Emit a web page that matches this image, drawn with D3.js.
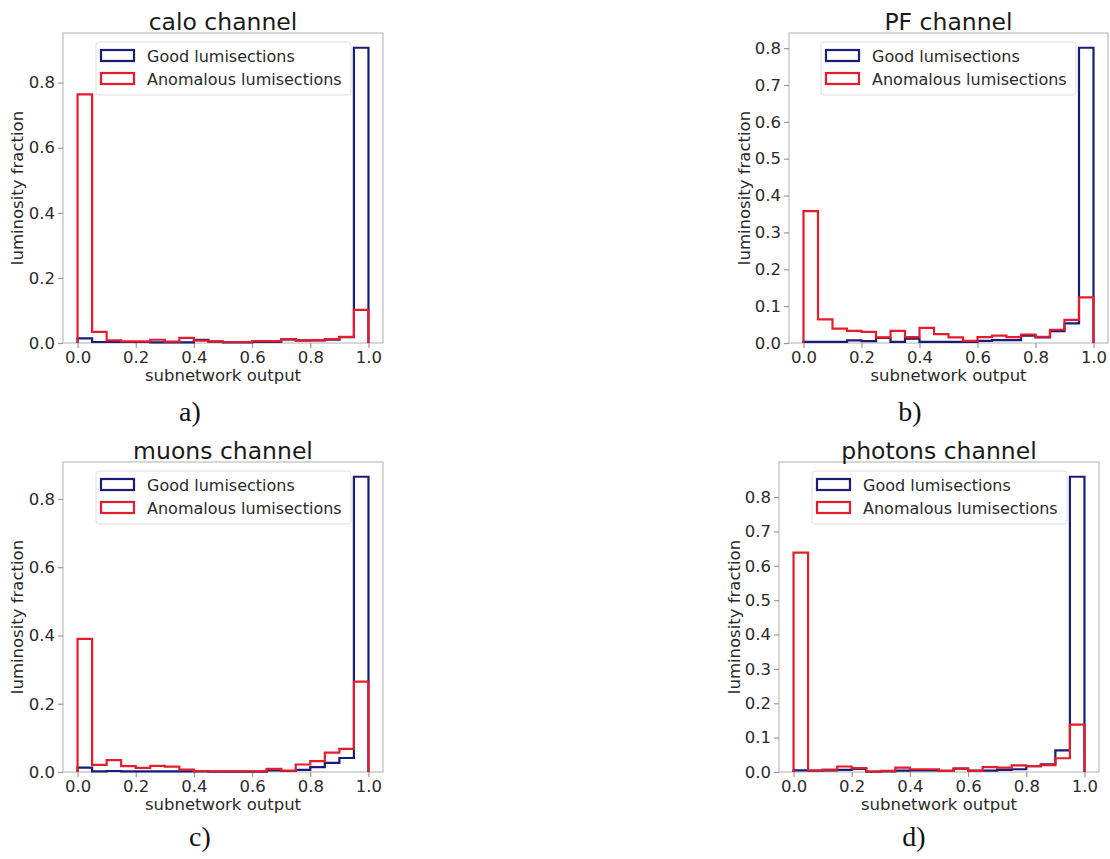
<!DOCTYPE html>
<html>
<head>
<meta charset="utf-8">
<script src="https://cdn.jsdelivr.net/npm/d3@7"></script>
<style>
  body { margin: 0; background: #fff; }
  text { font-family: "DejaVu Sans", sans-serif; }
</style>
</head>
<body>
<div class="container"></div>
<script>
// bin edges of the histograms (20 bins)
const binEdges = [0, 0.05, 0.1, 0.15, 0.2, 0.25, 0.3, 0.35, 0.4, 0.45, 0.5,
  0.55, 0.6, 0.65, 0.7, 0.75, 0.8, 0.85, 0.9, 0.95, 1.0];

const caloGood = [0.014, 0.003, 0.003, 0.003, 0.003, 0.002, 0.002, 0.002, 0.01, 0.004,
  0.002, 0.002, 0.003, 0.003, 0.011, 0.008, 0.008, 0.01, 0.018, 0.907];
const caloBad = [0.764, 0.034, 0.008, 0.005, 0.005, 0.01, 0.004, 0.016, 0.007, 0.005,
  0.003, 0.003, 0.006, 0.006, 0.011, 0.007, 0.009, 0.012, 0.019, 0.102];

const pfGood = [0.003, 0.003, 0.003, 0.007, 0.005, 0.014, 0.003, 0.012, 0.003, 0.003,
  0.003, 0.003, 0.006, 0.008, 0.008, 0.02, 0.015, 0.032, 0.053, 0.801];
const pfBad = [0.358, 0.064, 0.039, 0.033, 0.03, 0.015, 0.033, 0.016, 0.041, 0.024,
  0.015, 0.006, 0.016, 0.02, 0.016, 0.023, 0.017, 0.036, 0.063, 0.124];

const muonsGood = [0.013, 0.002, 0.003, 0.002, 0.002, 0.002, 0.002, 0.002, 0.002, 0.001,
  0.001, 0.001, 0.001, 0.005, 0.003, 0.006, 0.014, 0.027, 0.041, 0.865];
const muonsBad = [0.39, 0.021, 0.035, 0.017, 0.012, 0.018, 0.016, 0.007, 0.003, 0.002,
  0.002, 0.002, 0.002, 0.009, 0.004, 0.022, 0.032, 0.057, 0.068, 0.265];

const photonsGood = [0.005, 0.004, 0.005, 0.006, 0.009, 0.001, 0.002, 0.004, 0.005, 0.005,
  0.003, 0.01, 0.004, 0.004, 0.006, 0.008, 0.017, 0.022, 0.063, 0.859];
const photonsBad = [0.638, 0.004, 0.007, 0.016, 0.011, 0.001, 0.003, 0.013, 0.008, 0.008,
  0.003, 0.01, 0.003, 0.014, 0.013, 0.019, 0.017, 0.02, 0.04, 0.138];

const titles = ['calo channel', 'PF channel', 'muons channel', 'photons channel'];
const subLabels = ['a)', 'b)', 'c)', 'd)'];
const seriesNames = ['Good lumisections', 'Anomalous lumisections'];
const xTicks = [0, 0.2, 0.4, 0.6, 0.8, 1.0];
const yTicksCoarse = [0, 0.2, 0.4, 0.6, 0.8];
const yTicksFine = [0, 0.1, 0.2, 0.3, 0.4, 0.5, 0.6, 0.7, 0.8];

const goodColor = '#1b1b78';
const badColor = '#e61c2c';

const width = 1110;
const height = 859;

const panels = [
  { good: caloGood, bad: caloBad, yTicks: yTicksCoarse, left: 63, right: 383, top: 33, bottom: 343, yLabelX: 23, subX: 190, subY: 421 },
  { good: pfGood, bad: pfBad, yTicks: yTicksFine, left: 789, right: 1108, top: 33, bottom: 343, yLabelX: 750, subX: 910, subY: 421 },
  { good: muonsGood, bad: muonsBad, yTicks: yTicksCoarse, left: 63, right: 383, top: 462, bottom: 772, yLabelX: 23, subX: 200, subY: 846 },
  { good: photonsGood, bad: photonsBad, yTicks: yTicksFine, left: 779, right: 1099, top: 462, bottom: 772, yLabelX: 740, subX: 914, subY: 846 }
];

const svg = d3.select('.container').append('svg').attr('width', width).attr('height', height);

panels.forEach((p, i) => {
  const g = svg.append('g').attr('class', 'panel');

  const yMax = d3.max(p.good.concat(p.bad)) * 1.05;
  const xScale = d3.scaleLinear().domain([-0.05, 1.05]).range([p.left, p.right]);
  const yScale = d3.scaleLinear().domain([0, yMax]).range([p.bottom, p.top]);

  //frame
  g.append('rect')
    .attr('x', p.left).attr('y', p.top)
    .attr('width', p.right - p.left).attr('height', p.bottom - p.top)
    .attr('fill', 'none').attr('stroke', '#bdbdbd').attr('stroke-width', 1.2);

  //axes
  const bottomAxis = d3.axisBottom(xScale).tickValues(xTicks).tickFormat(d3.format('.1f'))
    .tickSize(5).tickPadding(3);
  const bottomGroup = g.append('g').attr('transform', `translate(0,${p.bottom})`).call(bottomAxis);
  const leftAxis = d3.axisLeft(yScale).tickValues(p.yTicks).tickFormat(d3.format('.1f'))
    .tickSize(5).tickPadding(3);
  const leftGroup = g.append('g').attr('transform', `translate(${p.left},0)`).call(leftAxis);
  [bottomGroup, leftGroup].forEach(ax => {
    ax.select('.domain').remove();
    ax.selectAll('.tick line').attr('stroke', '#9a9a9a').attr('stroke-width', 1.2);
    ax.selectAll('.tick text').attr('fill', '#2a2a2a').style('font-size', '16.5px')
      .style('font-family', '"DejaVu Sans", sans-serif');
  });

  //histogram outlines (step style)
  const line = d3.line().x(d => xScale(d[0])).y(d => yScale(d[1]));
  const stepPoints = values => {
    const pts = [[binEdges[0], 0]];
    values.forEach((v, k) => {
      pts.push([binEdges[k], v]);
      pts.push([binEdges[k + 1], v]);
    });
    pts.push([binEdges[binEdges.length - 1], 0]);
    return pts;
  };
  g.append('path').attr('d', line(stepPoints(p.good)))
    .attr('fill', 'none').attr('stroke', goodColor).attr('stroke-width', 2.2);
  g.append('path').attr('d', line(stepPoints(p.bad)))
    .attr('fill', 'none').attr('stroke', badColor).attr('stroke-width', 2.2);

  //legend
  const legend = g.append('g').attr('transform', `translate(${p.right - 32 - 255},${p.top + 9})`);
  legend.append('rect').attr('width', 255).attr('height', 53).attr('rx', 3)
    .attr('fill', '#fff').attr('fill-opacity', 0.8).attr('stroke', '#e0e0e0');
  [goodColor, badColor].forEach((c, k) => {
    legend.append('rect').attr('x', 5).attr('y', 8 + k * 23).attr('width', 33).attr('height', 11)
      .attr('fill', 'none').attr('stroke', c).attr('stroke-width', 2.2);
    legend.append('text').attr('x', 51).attr('y', 20 + k * 23).text(seriesNames[k])
      .attr('fill', '#2a2a2a').style('font-size', '16px');
  });

  //labels
  const cx = (p.left + p.right) / 2;
  g.append('text').text(titles[i]).attr('x', cx).attr('y', p.top - 3)
    .attr('text-anchor', 'middle').attr('fill', '#1a1a1a').style('font-size', '23.5px');
  g.append('text').text('subnetwork output').attr('x', cx).attr('y', p.bottom + 38)
    .attr('text-anchor', 'middle').attr('fill', '#2a2a2a').style('font-size', '16.5px');
  g.append('text').text('luminosity fraction')
    .attr('transform', `translate(${p.yLabelX},${(p.top + p.bottom) / 2}) rotate(-90)`)
    .attr('text-anchor', 'middle').attr('fill', '#2a2a2a').style('font-size', '16.5px');
  g.append('text').text(subLabels[i]).attr('x', p.subX).attr('y', p.subY)
    .attr('text-anchor', 'middle').attr('fill', '#111')
    .style('font-family', '"Liberation Serif", serif').style('font-size', '28px');
});
</script>
</body>
</html>
